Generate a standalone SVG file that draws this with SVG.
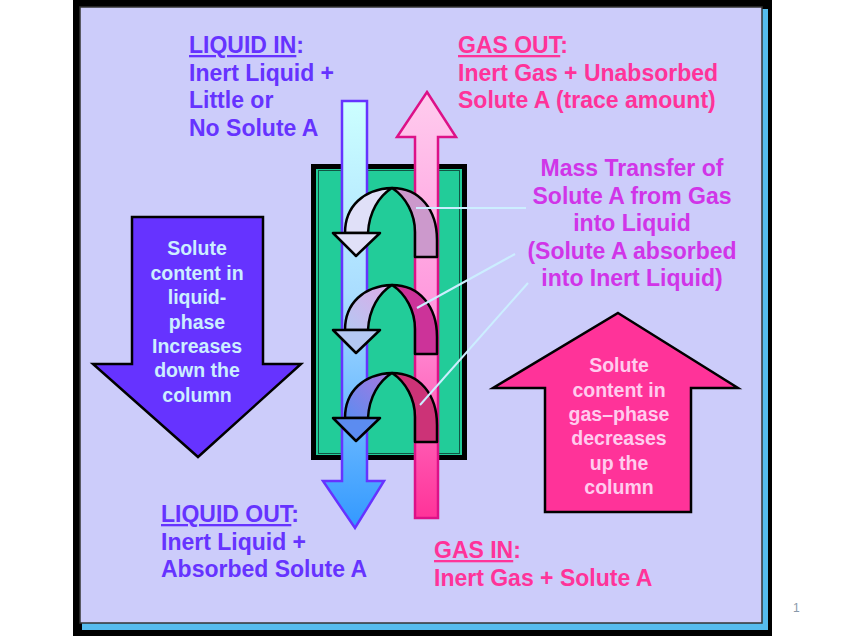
<svg xmlns="http://www.w3.org/2000/svg" width="848" height="636" viewBox="0 0 848 636">
<defs>
<style>
text{font-family:"Liberation Sans",Arial,sans-serif;font-weight:bold;}
.lq{fill:#6633FF;font-size:23px;}
.gs{fill:#FF3399;font-size:23px;}
.mt{fill:#D035E8;font-size:23px;text-anchor:middle;}
.inL{fill:#CCEEFF;font-size:19.5px;text-anchor:middle;}
.inR{fill:#FFCCEE;font-size:19.5px;text-anchor:middle;}
.ul{text-decoration:underline;}
.ptr{stroke:#CCEEFF;stroke-width:2;fill:none;}
.cb{stroke:#000;stroke-width:2.5;stroke-linejoin:round;}
</style>
<linearGradient id="liqG" x1="0" y1="101" x2="0" y2="528" gradientUnits="userSpaceOnUse">
<stop offset="0" stop-color="#CCFFFF"/>
<stop offset="0.45" stop-color="#AADDFF"/>
<stop offset="1" stop-color="#3399FF"/>
</linearGradient>
<linearGradient id="gasG" x1="0" y1="92" x2="0" y2="518" gradientUnits="userSpaceOnUse">
<stop offset="0" stop-color="#FFCCEE"/>
<stop offset="0.5" stop-color="#FF99DD"/>
<stop offset="1" stop-color="#FF3399"/>
</linearGradient>
<linearGradient id="l2" x1="1" y1="0" x2="0" y2="1">
<stop offset="0" stop-color="#DDAAE8"/>
<stop offset="1" stop-color="#B4C8F2"/>
</linearGradient>
<linearGradient id="l3" x1="1" y1="0" x2="0" y2="1">
<stop offset="0" stop-color="#A878E0"/>
<stop offset="1" stop-color="#5C8CF0"/>
</linearGradient>
</defs>

<g id="frame">
<rect x="73" y="0" width="699" height="636" fill="#000"/>
<rect x="82" y="9" width="686" height="621" fill="#55BBEE"/>
<rect x="80" y="7" width="682" height="616" fill="#CCCCFA" stroke="#333" stroke-width="1.5"/>
</g>

<g id="left-arrow">
<polygon points="132,217 263,217 263,364 301,364 198,457 93,364 132,364" fill="#6633FF" stroke="#000" stroke-width="2.5" stroke-linejoin="miter"/>
<text class="inL" x="197" y="255">Solute</text>
<text class="inL" x="197" y="280">content in</text>
<text class="inL" x="197" y="304">liquid-</text>
<text class="inL" x="197" y="329">phase</text>
<text class="inL" x="197" y="353">Increases</text>
<text class="inL" x="197" y="377">down the</text>
<text class="inL" x="197" y="402">column</text>
</g>

<g id="right-arrow">
<polygon points="618,313 738,388 691,388 691,512 545,512 545,388 493,388" fill="#FF3399" stroke="#000" stroke-width="2.5"/>
<text class="inR" x="619" y="372">Solute</text>
<text class="inR" x="619" y="397">content in</text>
<text class="inR" x="619" y="421">gas–phase</text>
<text class="inR" x="619" y="445">decreases</text>
<text class="inR" x="619" y="470">up the</text>
<text class="inR" x="619" y="494">column</text>
</g>

<g id="column">
<rect x="313.5" y="166.5" width="151" height="291" fill="#22CC99" stroke="#000" stroke-width="5"/>
<rect x="318.5" y="170.5" width="141" height="283" fill="none" stroke="#115544" stroke-width="1"/>
</g>

<g id="liquid-stream">
<polygon points="342,101 367,101 367,481 384,481 355,528 323,481 342,481" fill="url(#liqG)" stroke="#6633FF" stroke-width="2.5"/>
</g>

<g id="gas-stream">
<polygon points="427,92 456,137 438,137 438,518 415,518 415,137 397,137" fill="url(#gasG)" stroke="#DD1188" stroke-width="2.5"/>
</g>

<g id="transfer-1">
<path class="cb" d="M392,188 C420,188 437,210 437,240 L437,257 L415,257 L415,232 C415,214 406,197 392,188 Z" fill="#CC99CC"/>
<path class="cb" d="M345,233 C345,206 364,189 392,188 C379,196 369,212 368,233 Z" fill="#E0E0F8"/>
<polygon class="cb" points="333,233 380,233 356,256" fill="#E0E0F8"/>
</g>

<g id="transfer-2" transform="translate(0,97)">
<path class="cb" d="M392,188 C420,188 437,210 437,240 L437,257 L415,257 L415,232 C415,214 406,197 392,188 Z" fill="#CC3399"/>
<path class="cb" d="M345,233 C345,206 364,189 392,188 C379,196 369,212 368,233 Z" fill="url(#l2)"/>
<polygon class="cb" points="333,233 380,233 356,256" fill="#B4C8F2"/>
</g>

<g id="transfer-3" transform="translate(0,185)">
<path class="cb" d="M392,188 C420,188 437,210 437,240 L437,257 L415,257 L415,232 C415,214 406,197 392,188 Z" fill="#CC3377"/>
<path class="cb" d="M345,233 C345,206 364,189 392,188 C379,196 369,212 368,233 Z" fill="url(#l3)"/>
<polygon class="cb" points="333,233 380,233 356,256" fill="#5C8CF0"/>
</g>

<g id="connectors">
<line class="ptr" x1="416" y1="208" x2="526" y2="208"/>
<line class="ptr" x1="417" y1="308" x2="515" y2="254"/>
<line class="ptr" x1="420" y1="405" x2="528" y2="283"/>
</g>

<g id="liquid-in">
<text class="lq" x="189" y="53"><tspan class="ul">LIQUID IN</tspan>:</text>
<text class="lq" x="189" y="81">Inert Liquid +</text>
<text class="lq" x="189" y="108">Little or</text>
<text class="lq" x="189" y="136">No Solute A</text>
</g>

<g id="gas-out">
<text class="gs" x="458" y="53"><tspan class="ul">GAS OUT</tspan>:</text>
<text class="gs" x="458" y="81">Inert Gas + Unabsorbed</text>
<text class="gs" x="458" y="108">Solute A (trace amount)</text>
</g>

<g id="mass-transfer">
<text class="mt" x="632" y="176">Mass Transfer of</text>
<text class="mt" x="632" y="204">Solute A from Gas</text>
<text class="mt" x="632" y="231">into Liquid</text>
<text class="mt" x="632" y="259">(Solute A absorbed</text>
<text class="mt" x="632" y="286">into Inert Liquid)</text>
</g>

<g id="liquid-out">
<text class="lq" x="161" y="522"><tspan class="ul">LIQUID OUT</tspan>:</text>
<text class="lq" x="161" y="550">Inert Liquid +</text>
<text class="lq" x="161" y="577">Absorbed Solute A</text>
</g>

<g id="gas-in">
<text class="gs" x="434" y="558"><tspan class="ul">GAS IN</tspan>:</text>
<text class="gs" x="434" y="586">Inert Gas + Solute A</text>
</g>

<text x="793" y="612" font-size="12" fill="#8899AA" style="font-weight:normal">1</text>
</svg>
